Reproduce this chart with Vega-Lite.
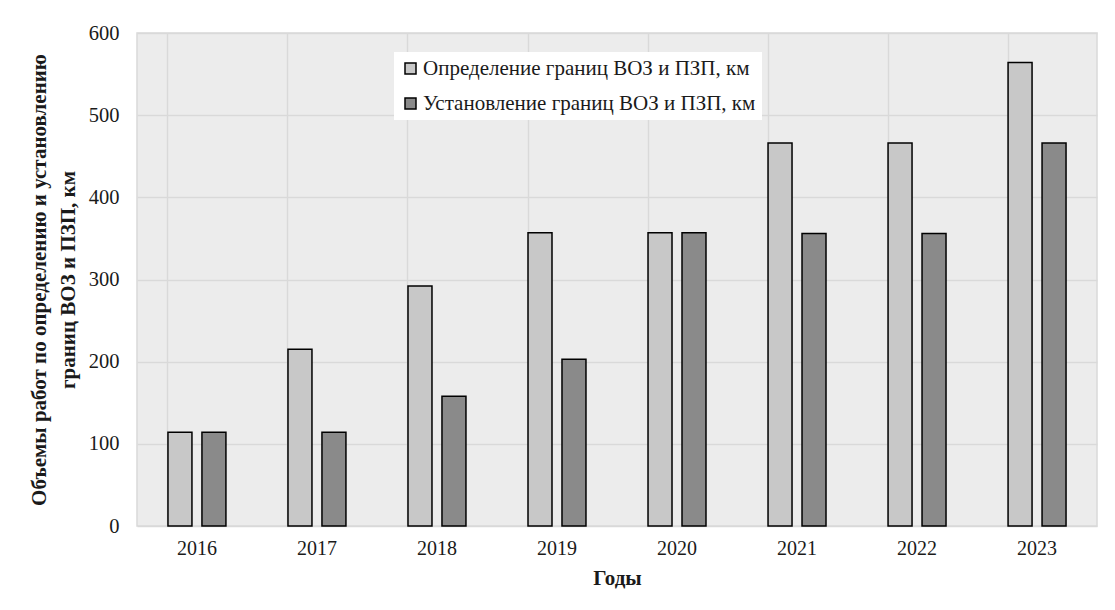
{
  "$schema": "https://vega.github.io/schema/vega-lite/v6.json",
  "width": 960,
  "height": 493,
  "autosize": {"type": "none"},
  "padding": {"left": 137, "top": 33, "right": 18, "bottom": 84},
  "background": "white",
  "config": {
    "font": "Liberation Serif",
    "axis": {"labelFont": "Liberation Serif", "titleFont": "Liberation Serif"},
    "legend": {"labelFont": "Liberation Serif", "titleFont": "Liberation Serif"},
    "view": {"stroke": "#d9d9d9", "strokeWidth": 1.5, "fill": "#ececec"}
  },
  "data": {
    "values": [
      {"year": "2016", "series": "Определение границ ВОЗ и ПЗП, км", "value": 114},
      {"year": "2016", "series": "Установление границ ВОЗ и ПЗП, км", "value": 114},
      {"year": "2017", "series": "Определение границ ВОЗ и ПЗП, км", "value": 215},
      {"year": "2017", "series": "Установление границ ВОЗ и ПЗП, км", "value": 114},
      {"year": "2018", "series": "Определение границ ВОЗ и ПЗП, км", "value": 292},
      {"year": "2018", "series": "Установление границ ВОЗ и ПЗП, км", "value": 158},
      {"year": "2019", "series": "Определение границ ВОЗ и ПЗП, км", "value": 357},
      {"year": "2019", "series": "Установление границ ВОЗ и ПЗП, км", "value": 203},
      {"year": "2020", "series": "Определение границ ВОЗ и ПЗП, км", "value": 357},
      {"year": "2020", "series": "Установление границ ВОЗ и ПЗП, км", "value": 357},
      {"year": "2021", "series": "Определение границ ВОЗ и ПЗП, км", "value": 466},
      {"year": "2021", "series": "Установление границ ВОЗ и ПЗП, км", "value": 356},
      {"year": "2022", "series": "Определение границ ВОЗ и ПЗП, км", "value": 466},
      {"year": "2022", "series": "Установление границ ВОЗ и ПЗП, км", "value": 356},
      {"year": "2023", "series": "Определение границ ВОЗ и ПЗП, км", "value": 564},
      {"year": "2023", "series": "Установление границ ВОЗ и ПЗП, км", "value": 466}
    ]
  },
  "mark": {"type": "bar", "stroke": "black", "strokeWidth": 1.5},
  "encoding": {
    "x": {
      "field": "year",
      "type": "nominal",
      "scale": {"paddingInner": 0.517, "paddingOuter": 0.258},
      "axis": {
        "title": "Годы",
        "labelAngle": 0,
        "labelFont": "Liberation Serif",
        "labelFontSize": 20,
        "labelColor": "#1a1a1a",
        "labelPadding": 12,
        "ticks": false,
        "domain": false,
        "grid": true,
        "bandPosition": 0,
        "gridColor": "#d9d9d9",
        "gridWidth": 1.5,
        "titleFont": "Liberation Serif",
        "titleFontSize": 21,
        "titleFontWeight": "bold",
        "titleColor": "#1a1a1a",
        "titlePadding": 9
      }
    },
    "xOffset": {
      "field": "series",
      "type": "nominal",
      "sort": ["Определение границ ВОЗ и ПЗП, км", "Установление границ ВОЗ и ПЗП, км"],
      "scale": {"paddingInner": 0.294, "paddingOuter": 0}
    },
    "y": {
      "field": "value",
      "type": "quantitative",
      "scale": {"domain": [0, 600]},
      "axis": {
        "title": ["Объемы работ по определению и установлению", "границ ВОЗ и ПЗП, км"],
        "values": [0, 100, 200, 300, 400, 500, 600],
        "labelFont": "Liberation Serif",
        "labelFontSize": 20.5,
        "labelColor": "#1a1a1a",
        "labelPadding": 18,
        "ticks": false,
        "domain": false,
        "gridColor": "#d9d9d9",
        "gridWidth": 1.5,
        "titleFont": "Liberation Serif",
        "titleFontSize": 21,
        "titleFontWeight": "bold",
        "titleColor": "#1a1a1a",
        "titleLineHeight": 29,
        "titleX": -98,
        "titleBaseline": "middle",
        "titleAlign": "center"
      }
    },
    "fill": {
      "field": "series",
      "type": "nominal",
      "sort": ["Определение границ ВОЗ и ПЗП, км", "Установление границ ВОЗ и ПЗП, км"],
      "scale": {"range": ["#c8c8c8", "#8a8a8a"]},
      "legend": {
        "title": null,
        "orient": "none",
        "legendX": 257,
        "legendY": 19,
        "fillColor": "white",
        "padding": 6,
        "symbolType": "square",
        "symbolSize": 121,
        "symbolStrokeColor": "black",
        "symbolStrokeWidth": 1.5,
        "labelFont": "Liberation Serif",
        "labelFontSize": 21,
        "labelColor": "#1a1a1a",
        "labelOffset": 2,
        "labelLimit": 500,
        "rowPadding": 13
      }
    }
  }
}
